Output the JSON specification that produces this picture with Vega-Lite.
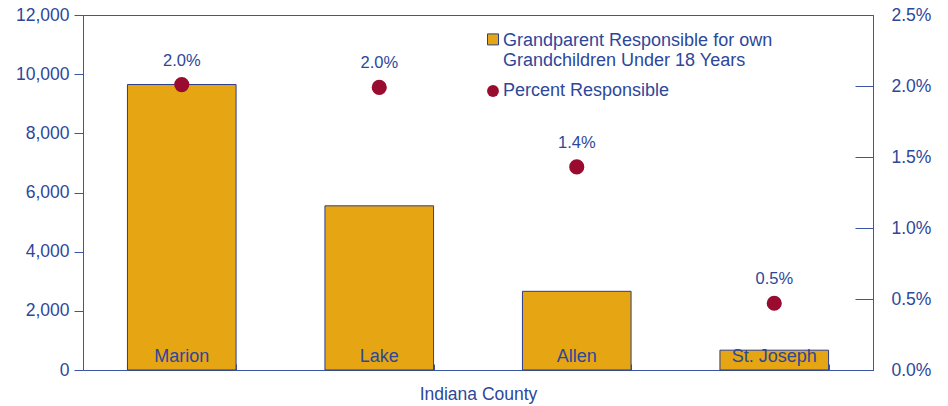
{
  "$schema": "https://vega.github.io/schema/vega-lite/v6.json",
  "width": 790,
  "height": 355,
  "autosize": {"type": "none"},
  "padding": {"left": 83, "top": 15, "right": 75, "bottom": 36},
  "background": "white",
  "config": {
    "font": "Liberation Sans",
    "view": {"stroke": "#3C56A5", "strokeWidth": 1},
    "axis": {"grid": false, "domainColor": "#3C56A5", "tickColor": "#3C56A5", "labelColor": "#2D479A", "titleColor": "#2D479A", "labelFontSize": 17.5, "titleFontSize": 17.5, "titleFontWeight": "normal", "labelFont": "Liberation Sans", "titleFont": "Liberation Sans"},
    "legend": {"labelFontSize": 18, "labelColor": "#2D479A", "labelFont": "Liberation Sans", "labelLimit": 400}
  },
  "data": {
    "values": [
      {"county": "Marion", "grandparents": 9650, "percent": 0.0201, "pctLabel": "2.0%"},
      {"county": "Lake", "grandparents": 5550, "percent": 0.0199, "pctLabel": "2.0%"},
      {"county": "Allen", "grandparents": 2660, "percent": 0.0143, "pctLabel": "1.4%"},
      {"county": "St. Joseph", "grandparents": 670, "percent": 0.0047, "pctLabel": "0.5%"}
    ]
  },
  "encoding": {
    "x": {
      "field": "county", "type": "nominal", "sort": null,
      "scale": {"paddingInner": 0.45, "paddingOuter": 0.225},
      "axis": {"title": "Indiana County", "labels": false, "tickBand": "extent", "tickSize": -6, "titlePadding": 15, "domainColor": "#3C56A5"}
    }
  },
  "layer": [
    {
      "layer": [
        {
          "mark": {"type": "bar", "stroke": "#2A3D8F", "strokeWidth": 1},
          "encoding": {
            "y": {"field": "grandparents", "type": "quantitative", "scale": {"domain": [0, 12000], "nice": false}, "axis": {"title": null, "values": [0, 2000, 4000, 6000, 8000, 10000, 12000], "format": ",d", "tickSize": 9, "labelPadding": 5, "orient": "left"}},
            "color": {"datum": "Grandparent Responsible for own Grandchildren Under 18 Years", "type": "nominal", "scale": {"range": ["#E6A614"]},
              "legend": {"title": null, "orient": "none", "legendX": 401, "legendY": 22, "symbolType": "M-1,-2.2H1V-0.2H-1Z", "symbolSize": 121, "symbolStrokeColor": "#2A3D8F", "symbolStrokeWidth": 1,
                "labelExpr": "['Grandparent Responsible for own', 'Grandchildren Under 18 Years']", "labelBaseline": "alphabetic", "labelOffset": 1}}
          }
        },
        {
          "mark": {"type": "text", "fontSize": 18, "color": "#2D479A", "baseline": "alphabetic", "dy": -8},
          "encoding": {
            "y": {"datum": 0, "type": "quantitative"},
            "text": {"field": "county", "type": "nominal"}
          }
        }
      ]
    },
    {
      "layer": [
        {
          "mark": {"type": "point", "filled": true, "size": 230, "opacity": 1},
          "encoding": {
            "y": {"field": "percent", "type": "quantitative", "scale": {"domain": [0, 0.025], "nice": false}, "axis": {"title": null, "orient": "right", "values": [0, 0.005, 0.01, 0.015, 0.02, 0.025], "format": ".1%", "tickSize": -18, "labelPadding": 36}},
            "color": {"datum": "Percent Responsible", "type": "nominal", "scale": {"range": ["#9A0B30"]},
              "legend": {"title": null, "orient": "none", "legendX": 401, "legendY": 67, "symbolType": "circle", "symbolSize": 140, "labelOffset": 1}}
          }
        },
        {
          "mark": {"type": "text", "fontSize": 16.5, "color": "#2D479A", "baseline": "alphabetic", "dy": -19},
          "encoding": {
            "y": {"field": "percent", "type": "quantitative"},
            "text": {"field": "pctLabel", "type": "nominal"}
          }
        }
      ]
    }
  ],
  "resolve": {"scale": {"y": "independent", "color": "independent"}}
}
